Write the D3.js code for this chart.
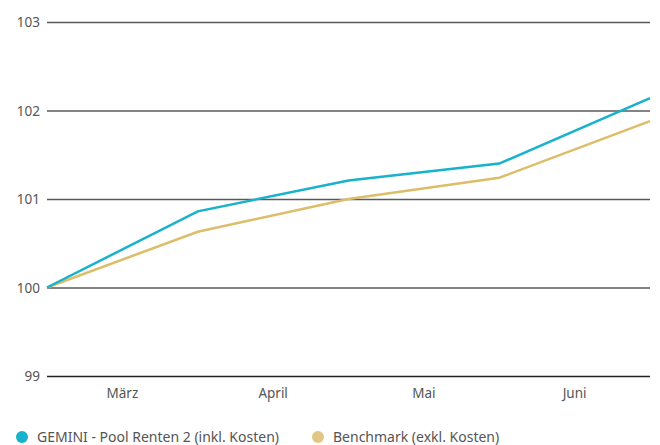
<!DOCTYPE html>
<html>
<head>
<meta charset="utf-8">
<script src="https://cdn.jsdelivr.net/npm/d3@7"></script>
<style>
  body { margin: 0; background: #fff; font-family: "Noto Sans", Lato, sans-serif; }
</style>
</head>
<body>
<svg id="chart" width="660" height="445"></svg>
<script>
const months = ["März", "April", "Mai", "Juni"];
const steps = [0, 1, 2, 3, 4];
const gemini = [100, 100.86, 101.21, 101.40, 102.14];
const benchmark = [100, 100.63, 101.0, 101.24, 101.88];
const yTicks = [99, 100, 101, 102, 103];

const plotLeft = 47, plotRight = 650, plotTop = 22, plotBottom = 376;

const svg = d3.select("#chart");

const x = d3.scaleLinear().domain([0, 4]).range([plotLeft, plotRight]);
const band = d3.scaleBand().domain(months).range([plotLeft, plotRight]);
const y = d3.scaleLinear().domain([99, 103]).range([plotBottom, plotTop]);

// grid lines
svg.append("g")
  .selectAll("line")
  .data(yTicks)
  .enter()
  .append("line")
  .attr("x1", plotLeft)
  .attr("x2", plotRight)
  .attr("y1", (d) => y(d) + 0.5)
  .attr("y2", (d) => y(d) + 0.5)
  .attr("stroke", (d) => d === 99 ? "#222" : "#5a5a5a")
  .attr("stroke-width", 1.3);

// y labels
svg.append("g")
  .selectAll("text")
  .data(yTicks)
  .enter()
  .append("text")
  .attr("x", 40)
  .attr("y", (d) => y(d) + 5)
  .attr("text-anchor", "end")
  .attr("font-size", "13.5px")
  .attr("fill", "#555")
  .text((d) => d);

// x labels
svg.append("g")
  .selectAll("text")
  .data(months)
  .enter()
  .append("text")
  .attr("x", (d) => band(d) + band.bandwidth() / 2)
  .attr("y", 398)
  .attr("text-anchor", "middle")
  .attr("font-size", "13.5px")
  .attr("fill", "#555")
  .text((d) => d);

const line = d3.line()
  .x((d, i) => x(steps[i]))
  .y((d) => y(d));

svg.append("path")
  .datum(benchmark)
  .attr("d", line)
  .attr("fill", "none")
  .attr("stroke", "#dcbd68")
  .attr("stroke-width", 2.5);

svg.append("path")
  .datum(gemini)
  .attr("d", line)
  .attr("fill", "none")
  .attr("stroke", "#17b2cc")
  .attr("stroke-width", 2.5);

// legend
const legend = [
  { name: "GEMINI - Pool Renten 2 (inkl. Kosten)", color: "#17b2cc", x: 22 },
  { name: "Benchmark (exkl. Kosten)", color: "#e2c685", x: 318 }
];

const lg = svg.append("g")
  .selectAll("g")
  .data(legend)
  .enter()
  .append("g")
  .attr("transform", (d) => `translate(${d.x}, 437)`);

lg.append("circle")
  .attr("r", 6)
  .attr("fill", (d) => d.color);

lg.append("text")
  .attr("x", 15)
  .attr("y", 5)
  .attr("font-size", "14px")
  .attr("fill", "#555")
  .text((d) => d.name);
</script>
</body>
</html>
